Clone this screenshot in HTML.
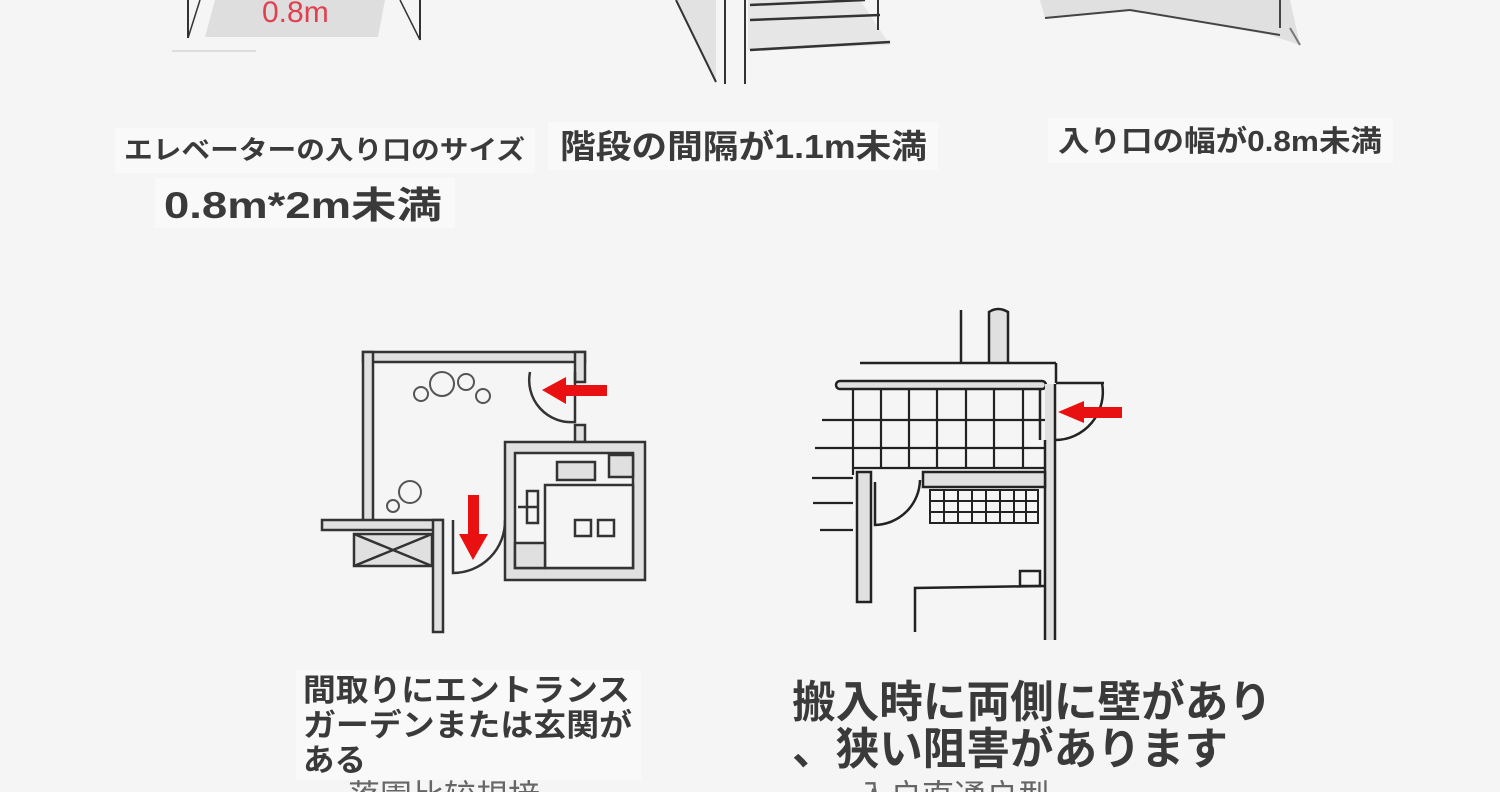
<!DOCTYPE html>
<html><head><meta charset="utf-8">
<style>
html,body{margin:0;padding:0;background:#f5f5f5;}
svg{display:block}
text{font-family:"Liberation Sans","Noto Sans CJK JP",sans-serif;font-weight:bold;fill:#3a3a3a}
</style></head>
<body>
<svg width="1500" height="792" viewBox="0 0 1500 792" xmlns="http://www.w3.org/2000/svg">
<rect width="1500" height="792" fill="#f5f5f5"/>
<polygon points="215,0 385,0 378,37 205,37" fill="#dedede"/>
<line x1="188" y1="0" x2="188" y2="38" stroke="#333" stroke-width="2"/>
<line x1="188" y1="38" x2="200" y2="0" stroke="#333" stroke-width="1.5"/>
<line x1="420" y1="0" x2="420" y2="40" stroke="#333" stroke-width="2"/>
<line x1="420" y1="40" x2="400" y2="0" stroke="#333" stroke-width="1.5"/>
<line x1="172" y1="51" x2="256" y2="51" stroke="#ddd" stroke-width="2"/>
<text x="262" y="22" font-size="30" style="fill:#e04050;font-weight:normal">0.8m</text>
<polygon points="676,0 716,0 716,82" fill="#e2e2e2"/>
<line x1="676" y1="0" x2="716" y2="82" stroke="#333" stroke-width="2"/>
<line x1="725" y1="0" x2="725" y2="84" stroke="#333" stroke-width="2"/>
<line x1="745" y1="0" x2="745" y2="84" stroke="#333" stroke-width="2"/>
<polygon points="748,0 860,0 890,45 748,50" fill="#e6e6e6"/>
<line x1="750" y1="5" x2="865" y2="0" stroke="#333" stroke-width="2.5"/>
<line x1="750" y1="20" x2="880" y2="15" stroke="#333" stroke-width="2.5"/>
<line x1="750" y1="50" x2="890" y2="42" stroke="#333" stroke-width="2.5"/>
<line x1="878" y1="0" x2="878" y2="30" stroke="#333" stroke-width="2"/>
<polygon points="1040,0 1290,0 1300,45 1270,35 1130,10 1045,18" fill="#e0e0e0"/>
<line x1="1045" y1="18" x2="1130" y2="10" stroke="#444" stroke-width="2"/>
<line x1="1130" y1="10" x2="1280" y2="35" stroke="#444" stroke-width="2"/>
<line x1="1280" y1="0" x2="1280" y2="28" stroke="#444" stroke-width="2"/>
<line x1="1290" y1="28" x2="1300" y2="45" stroke="#777" stroke-width="2"/>
<rect x="115" y="128" width="420" height="45" fill="#f9f9f9"/>
<text x="124" y="159" font-size="26" textLength="401" lengthAdjust="spacingAndGlyphs">エレベーターの入り口のサイズ</text>
<rect x="155" y="178" width="300" height="50" fill="#f9f9f9"/>
<text x="164" y="218" font-size="37" textLength="278" lengthAdjust="spacingAndGlyphs">0.8m*2m未満</text>
<rect x="548" y="122" width="390" height="48" fill="#f9f9f9"/>
<text x="560" y="158" font-size="33" textLength="367" lengthAdjust="spacingAndGlyphs">階段の間隔が1.1m未満</text>
<rect x="1048" y="118" width="345" height="45" fill="#f9f9f9"/>
<text x="1058" y="151" font-size="29" textLength="324" lengthAdjust="spacingAndGlyphs">入り口の幅が0.8m未満</text>

<g fill="none" stroke="#333" stroke-width="2.5">
<rect x="363" y="352" width="222" height="10" fill="#e0e0e0"/>
<rect x="363" y="352" width="10" height="170" fill="#e0e0e0"/>
<rect x="575" y="352" width="10" height="30" fill="#e0e0e0"/>
<rect x="575" y="425" width="10" height="17" fill="#e0e0e0"/>
<rect x="322" y="520" width="120" height="10" fill="#e0e0e0"/>
<rect x="354" y="534" width="78" height="32" fill="#e0e0e0"/>
<line x1="354" y1="534" x2="432" y2="566"/><line x1="354" y1="566" x2="432" y2="534"/>
<rect x="433" y="520" width="10" height="112" fill="#e0e0e0"/>
<path d="M530 372 A 42 42 0 0 0 575 422 L575 372"/>
<path d="M453 520 L453 573 A 52 52 0 0 0 505 520"/>
<rect x="505" y="442" width="140" height="138" fill="#e0e0e0"/>
<rect x="515" y="453" width="118" height="115" fill="#f5f5f5"/>
<rect x="557" y="462" width="38" height="18" fill="#e0e0e0"/>
<rect x="609" y="455" width="24" height="22" fill="#e0e0e0"/>
<rect x="545" y="485" width="88" height="83" fill="#f5f5f5"/>
<rect x="527" y="491" width="11" height="32"/>
<line x1="518" y1="507" x2="538" y2="507"/>
<rect x="515" y="543" width="30" height="25" fill="#e0e0e0"/>
<rect x="575" y="520" width="16" height="16"/>
<rect x="598" y="520" width="16" height="16"/>
<g stroke-width="2" stroke="#555">
<circle cx="421" cy="394" r="7"/><circle cx="442" cy="384" r="12"/><circle cx="466" cy="382" r="8"/><circle cx="483" cy="396" r="7"/>
<circle cx="410" cy="492" r="11"/><circle cx="393" cy="506" r="6"/>
</g>
</g>
<polygon points="542,390 566,377 566,385 607,385 607,396 566,396 566,404" fill="#e81010"/>
<polygon points="473,560 459,534 468,534 468,495 479,495 479,534 488,534" fill="#e81010"/>

<g fill="none" stroke="#222" stroke-width="2.5">
<line x1="961" y1="310" x2="961" y2="363"/>
<path d="M989 363 L989 312 Q998 306 1008 312 L1008 363" fill="#e0e0e0"/>
<line x1="860" y1="363" x2="1056" y2="363"/>
<line x1="1056" y1="363" x2="1056" y2="383"/>
<line x1="1056" y1="383" x2="1104" y2="383"/>
<rect x="836" y="381" width="210" height="8" rx="4" fill="#e0e0e0"/>
<g stroke-width="2.2">
<line x1="853" y1="389" x2="853" y2="475"/><line x1="881" y1="389" x2="881" y2="468"/>
<line x1="909" y1="389" x2="909" y2="468"/><line x1="937" y1="389" x2="937" y2="468"/>
<line x1="966" y1="389" x2="966" y2="468"/><line x1="994" y1="389" x2="994" y2="468"/>
<line x1="1023" y1="389" x2="1023" y2="468"/>
<line x1="822" y1="420" x2="1045" y2="420"/>
<line x1="815" y1="448" x2="1045" y2="448"/>
<line x1="812" y1="478" x2="853" y2="478"/><line x1="813" y1="503" x2="853" y2="503"/><line x1="820" y1="530" x2="853" y2="530"/>
<line x1="853" y1="468" x2="1045" y2="468"/>
</g>
<rect x="1045" y="384" width="10" height="256" fill="#e0e0e0" stroke="none"/>
<line x1="1055" y1="384" x2="1055" y2="640"/>
<line x1="1045" y1="440" x2="1045" y2="640"/>
<line x1="1040" y1="389" x2="1040" y2="440"/>
<path d="M1055 440 A 48 48 0 0 0 1102 383"/>
<rect x="923" y="472" width="122" height="15" fill="#e0e0e0"/>
<rect x="857" y="472" width="14" height="130" fill="#e0e0e0"/>
<path d="M875 482 L875 525 A 46 46 0 0 0 920 480"/>
<g stroke-width="2"><rect x="930" y="490" width="108" height="33"/>
<line x1="930" y1="501" x2="1038" y2="501"/><line x1="930" y1="512" x2="1038" y2="512"/>
<line x1="944" y1="490" x2="944" y2="523"/><line x1="958" y1="490" x2="958" y2="523"/><line x1="972" y1="490" x2="972" y2="523"/>
<line x1="986" y1="490" x2="986" y2="523"/><line x1="1000" y1="490" x2="1000" y2="523"/><line x1="1014" y1="490" x2="1014" y2="523"/><line x1="1026" y1="490" x2="1026" y2="523"/></g>
<path d="M915 632 L915 588 L1045 586"/>
<rect x="1020" y="571" width="20" height="15"/>
</g>
<polygon points="1058,412 1084,401 1084,407 1122,407 1122,418 1084,418 1084,423" fill="#e81010"/>

<rect x="296" y="670" width="345" height="110" fill="#f9f9f9"/>
<text x="303" y="701" font-size="31" textLength="327" lengthAdjust="spacingAndGlyphs">間取りにエントランス</text>
<text x="303" y="736" font-size="31" textLength="329" lengthAdjust="spacingAndGlyphs">ガーデンまたは玄関が</text>
<text x="303" y="771" font-size="31" textLength="63" lengthAdjust="spacingAndGlyphs">ある</text>
<text x="348" y="807" font-size="32" style="fill:#666;font-weight:normal">落園比较規接</text>
<text x="792" y="717" font-size="44" textLength="480" lengthAdjust="spacingAndGlyphs">搬入時に両側に壁があり</text>
<text x="792" y="764" font-size="44" textLength="436" lengthAdjust="spacingAndGlyphs">、狭い阻害があります</text>
<text x="858" y="807" font-size="32" style="fill:#666;font-weight:normal">入户直通户型</text>
</svg>
</body></html>
